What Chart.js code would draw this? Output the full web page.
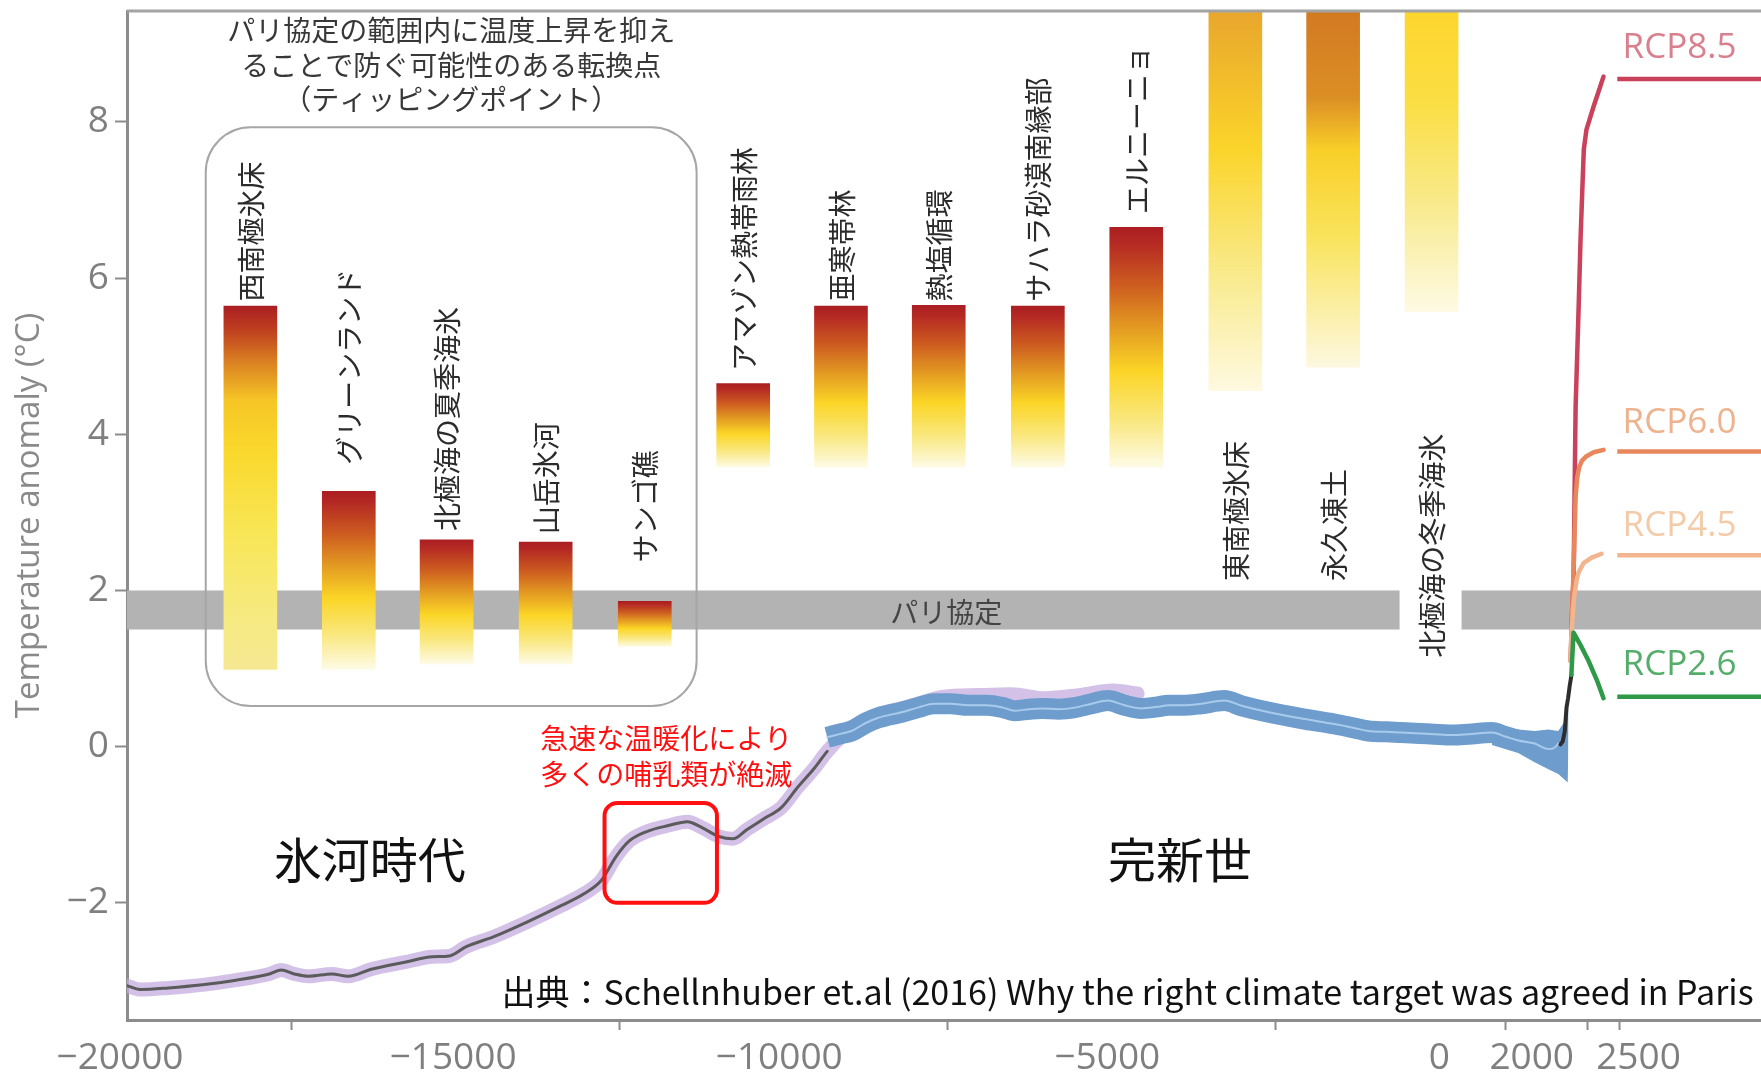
<!DOCTYPE html>
<html lang="ja">
<head>
<meta charset="utf-8">
<title>Temperature anomaly and tipping points</title>
<script src="https://cdn.jsdelivr.net/npm/chart.js@4/dist/chart.umd.min.js"></script>
<style>
  html, body { margin: 0; padding: 0; background: #fff; }
  #wrap { width: 1761px; height: 1072px; }
</style>
</head>
<body>
<div id="wrap"><canvas id="chart" width="1761" height="1072"></canvas></div>
<script>
// Temperature reconstruction, 20000 BC -> today, plus scenario runs and tipping elements

// Last glacial maximum through the deglaciation (purple record)
const glacialYears = [-20000, -19800, -19370, -18850, -18340, -17830, -17650, -17450, -17230, -16880,
  -16630, -16280, -15770, -15340, -15090, -14830, -14400, -13890, -13370, -13030,
  -12770, -12550, -12350, -12090, -11750, -11460, -11230, -10980, -10770, -10550,
  -10290, -10030, -9780, -9520, -9330, -9100, -8920, -8580, -8070, -7550,
  -7040, -6520, -6010, -5500, -4980, -4600];
const glacialTemps = [-3.06, -3.11, -3.09, -3.05, -2.99, -2.91, -2.86, -2.91, -2.94, -2.91,
  -2.94, -2.85, -2.76, -2.69, -2.68, -2.56, -2.43, -2.24, -2.03, -1.88,
  -1.71, -1.41, -1.21, -1.09, -1.01, -0.96, -1.04, -1.15, -1.18, -1.06,
  -0.92, -0.78, -0.52, -0.27, -0.06, 0.14, 0.26, 0.40, 0.52, 0.64,
  0.66, 0.67, 0.62, 0.66, 0.72, 0.68];

// Holocene record (blue)
const holoceneYears = [-9330, -9100, -8960, -8750, -8550, -8200, -7950, -7700, -7450, -7180,
  -6900, -6650, -6480, -6250, -6070, -5800, -5560, -5300, -5050, -4800,
  -4540, -4300, -4130, -3900, -3630, -3280, -3000, -2600, -2100, -1600,
  -1300, -1080, -800, -580, -300, -80, 200, 440, 800, 1000,
  1200, 1450, 1660, 1810, 1900, 1960];
const holoceneTemps = [0.12, 0.17, 0.20, 0.30, 0.37, 0.44, 0.50, 0.55, 0.55, 0.53,
  0.53, 0.50, 0.46, 0.48, 0.49, 0.48, 0.50, 0.55, 0.59, 0.53,
  0.49, 0.51, 0.53, 0.53, 0.55, 0.59, 0.52, 0.44, 0.36, 0.29,
  0.24, 0.20, 0.19, 0.18, 0.17, 0.16, 0.15, 0.16, 0.18, 0.13,
  0.08, 0.04, -0.03, 0.04, 0.33, 0.68];

// Widening uncertainty at the young end of the Holocene record
const fanYears = [800, 1200, 1450, 1660, 1810, 1905, 1955, 1966];
const fanHigh = [0.28, 0.22, 0.20, 0.22, 0.20, 0.32, 0.62, 0.80];
const fanLow = [0.02, -0.08, -0.20, -0.29, -0.35, -0.42, -0.46, 0.10];

// Instrumental record
const instrumentYears = [1845, 1880, 1910, 1936, 1960, 1985, 2012];
const instrumentTemps = [0.03, 0.07, 0.20, 0.50, 0.62, 0.78, 0.92];

// Scenario runs to 2500
const rcp85Years = [2000, 2015, 2045, 2060, 2075, 2120, 2150, 2180, 2200, 2240, 2350, 2500];
const rcp85Temps = [1.10, 1.60, 2.20, 3.30, 4.35, 5.60, 6.50, 7.20, 7.65, 7.90, 8.20, 8.58];
const rcp60Years = [2000, 2015, 2045, 2075, 2100, 2130, 2170, 2240, 2350, 2500];
const rcp60Temps = [1.10, 1.55, 2.30, 3.20, 3.45, 3.58, 3.66, 3.72, 3.77, 3.80];
const rcp45Years = [2000, 2015, 2050, 2090, 2120, 2195, 2320, 2470];
const rcp45Temps = [1.10, 1.50, 1.90, 2.13, 2.23, 2.35, 2.42, 2.47];
const rcp26Years = [2010, 2043, 2150, 2271, 2400, 2500];
const rcp26Temps = [0.92, 1.46, 1.30, 1.10, 0.85, 0.62];

// Long-term level of each scenario
const rcpNames = ['RCP8.5', 'RCP6.0', 'RCP4.5', 'RCP2.6'];
const rcpLevelYears = [2710, 4900];
const rcpLevels = [8.55, 3.78, 2.45, 0.64];

// Tipping elements: warming range (°C) at which each may tip
const tipNames = ['西南極氷床', 'グリーンランド', '北極海の夏季海氷', '山岳氷河', 'サンゴ礁',
  'アマゾン熱帯雨林', '亜寒帯林', '熱塩循環', 'サハラ砂漠南縁部', 'エルニーニョ',
  '東南極氷床', '永久凍土', '北極海の冬季海氷'];
const tipYears = [-18120, -16620, -15130, -13620, -12110, -10610, -9120, -7630, -6120, -4620, -3110, -1620, -120];
const tipLow = [0.99, 0.99, 1.06, 1.06, 1.28, 3.58, 3.58, 3.58, 3.58, 3.58, 4.56, 4.86, 5.57];
const tipHigh = [5.64, 3.27, 2.65, 2.62, 1.86, 4.65, 5.64, 5.65, 5.64, 6.65, 10, 10, 10];

// Paris agreement band
const parisBand = [1.5, 2.0];

const yearTicks = [-20000, -15000, -10000, -5000, 0, 2000, 2500];
const tempTicks = [-2, 0, 2, 4, 6, 8];

// ---- styling / layout ----
const JP = '"Noto Sans CJK JP", "Noto Sans", sans-serif';
const LATIN = '"Open Sans", "Noto Sans", sans-serif';
const AXIS_GREY = '#8c8c8c';
const rcpColors = ['#c9415a', '#e8875c', '#f2b58e', '#2e9a48'];
const rcpLabelColors = ['#d9808e', '#efb28f', '#f3cba8', '#55ad6c'];
const rcpLabelAt = [8.95, 4.15, 2.83, 1.04];

const shades = {
  deep: [[0, '#ab1e22'], [0.07, '#c0421f'], [0.16, '#dc8522'], [0.26, '#f6c626'], [0.4, '#fad82c'], [0.62, '#f8e655'], [0.85, '#f6ea80'], [1, '#f5e892']],
  warm: [[0, '#ab1e22'], [0.06, '#b42823'], [0.24, '#cd5c20'], [0.42, '#e39b22'], [0.6, '#fbd526'], [0.8, '#f9e77c'], [1, '#fefbe6']],
  amber: [[0, '#e39a2c'], [0.1, '#e8a52c'], [0.43, '#fbd42a'], [0.72, '#f9ea8a'], [1, '#fef9e0']],
  rust: [[0, '#cc6e20'], [0.12, '#d27a22'], [0.33, '#dc8f25'], [0.46, '#f9cf28'], [0.67, '#f9e35a'], [1, '#fdf8e0']],
  lemon: [[0, '#fcd124'], [0.1, '#fdd52a'], [0.4, '#fbde44'], [0.68, '#f8ea8a'], [1, '#fefae4']]
};
const tipShade = ['deep', 'warm', 'warm', 'warm', 'warm', 'warm', 'warm', 'warm', 'warm', 'warm', 'amber', 'rust', 'lemon'];
// where each rotated name starts (°C)
const tipLabelAt = [5.70, 3.61, 2.76, 2.72, 2.36, 4.81, 5.70, 5.70, 5.70, 6.82, 2.12, 2.12, 1.14];
const yearLabelShift = [-7, -2, -4, -4, 0, -39, 35];

const notes = {
  box: { x: [-18800, -11320], y: [0.52, 7.93], r: 45 },
  title: { x: -15060, y: [9.17, 8.73, 8.29], lines: ['パリ協定の範囲内に温度上昇を抑え', 'ることで防ぐ可能性のある転換点', '（ティッピングポイント）'] },
  extinction: { x: -11781, y: [0.10, -0.35], lines: ['急速な温暖化により', '多くの哺乳類が絶滅'] },
  redBox: { x: [-12723, -11010], y: [-2.0, -0.72], r: 13 },
  ice: { x: -16301, y: -1.45, text: '氷河時代' },
  holocene: { x: -3955, y: -1.45, text: '完新世' },
  paris: { x: -7517, y: 1.72, text: 'パリ協定' },
  source: { x: 4787, y: -3.14, text: '出典：Schellnhuber et.al (2016) Why the right climate target was agreed in Paris' },
  rcpX: 2790
};

const pts = (xs, ys) => xs.map((x, i) => ({ x, y: ys[i] }));
const fmt = v => (v < 0 ? '\u2212' + Math.abs(v) : String(v));
const CLEAR = 'rgba(0,0,0,0)';

function roundedRect(ctx, x0, y0, x1, y1, r) {
  ctx.beginPath();
  ctx.moveTo(x0 + r, y0);
  ctx.arcTo(x1, y0, x1, y1, r);
  ctx.arcTo(x1, y1, x0, y1, r);
  ctx.arcTo(x0, y1, x0, y0, r);
  ctx.arcTo(x0, y0, x1, y0, r);
  ctx.closePath();
}

function barFill(c) {
  const chart = c.chart;
  if (!chart.chartArea || c.dataIndex === undefined) return 'transparent';
  const ys = chart.scales.y;
  const i = c.dataIndex;
  const g = chart.ctx.createLinearGradient(0, ys.getPixelForValue(tipHigh[i]), 0, ys.getPixelForValue(tipLow[i]));
  shades[tipShade[i]].forEach(([o, col]) => g.addColorStop(o, col));
  return g;
}

// band, frame, labels and notes drawn against the chart's own scales
const overlay = {
  id: 'overlay',
  beforeDatasetsDraw(chart) {
    const { ctx, chartArea: area, scales: { y } } = chart;
    const top = y.getPixelForValue(parisBand[1]);
    const bottom = y.getPixelForValue(parisBand[0]);
    ctx.save();
    ctx.fillStyle = '#b3b3b3';
    ctx.fillRect(area.left, top, area.right - area.left, bottom - top);
    ctx.restore();
  },
  afterDatasetsDraw(chart) {
    const { ctx, chartArea: area, scales: { x, y } } = chart;
    ctx.save();

    // top frame line
    ctx.strokeStyle = '#a3a3a3';
    ctx.lineWidth = 3;
    ctx.beginPath();
    ctx.moveTo(area.left, area.top);
    ctx.lineTo(area.right, area.top);
    ctx.stroke();

    ctx.textAlign = 'center';
    ctx.textBaseline = 'middle';

    // band label
    ctx.font = '28px ' + JP;
    ctx.fillStyle = '#444';
    ctx.fillText(notes.paris.text, x.getPixelForValue(notes.paris.x), y.getPixelForValue(notes.paris.y));

    // tipping element names, reading bottom to top
    tipNames.forEach((name, i) => {
      ctx.save();
      ctx.translate(x.getPixelForValue(tipYears[i]), y.getPixelForValue(tipLabelAt[i]));
      ctx.rotate(-Math.PI / 2);
      ctx.font = '28px ' + JP;
      const w = ctx.measureText(name).width;
      if (tipLabelAt[i] < parisBand[1]) {
        ctx.fillStyle = '#fff';
        ctx.fillRect(-4, -32, w + 8, 62);
      }
      ctx.fillStyle = '#2b2b2b';
      ctx.textAlign = 'left';
      ctx.fillText(name, 0, 1);
      ctx.restore();
    });

    // group box for the elements inside the Paris range
    const b = notes.box;
    ctx.strokeStyle = '#a6a6a6';
    ctx.lineWidth = 2;
    roundedRect(ctx, x.getPixelForValue(b.x[0]), y.getPixelForValue(b.y[1]), x.getPixelForValue(b.x[1]), y.getPixelForValue(b.y[0]), b.r);
    ctx.stroke();

    ctx.font = '28px ' + JP;
    ctx.fillStyle = '#383838';
    notes.title.lines.forEach((line, k) => {
      ctx.fillText(line, x.getPixelForValue(notes.title.x), y.getPixelForValue(notes.title.y[k]));
    });

    // extinction note
    const rb = notes.redBox;
    ctx.strokeStyle = '#ff1010';
    ctx.lineWidth = 4;
    roundedRect(ctx, x.getPixelForValue(rb.x[0]), y.getPixelForValue(rb.y[1]), x.getPixelForValue(rb.x[1]), y.getPixelForValue(rb.y[0]), rb.r);
    ctx.stroke();
    ctx.fillStyle = '#ff1010';
    notes.extinction.lines.forEach((line, k) => {
      ctx.fillText(line, x.getPixelForValue(notes.extinction.x), y.getPixelForValue(notes.extinction.y[k]));
    });

    // era names
    ctx.font = '48px ' + JP;
    ctx.fillStyle = '#111';
    [notes.ice, notes.holocene].forEach(n => ctx.fillText(n.text, x.getPixelForValue(n.x), y.getPixelForValue(n.y)));

    // scenario names
    ctx.font = '35px ' + LATIN;
    ctx.textAlign = 'left';
    rcpNames.forEach((name, i) => {
      ctx.fillStyle = rcpLabelColors[i];
      ctx.fillText(name, x.getPixelForValue(notes.rcpX), y.getPixelForValue(rcpLabelAt[i]));
    });

    // source line
    ctx.font = '34px ' + JP;
    ctx.fillStyle = '#111';
    ctx.textAlign = 'right';
    ctx.fillText(notes.source.text, x.getPixelForValue(notes.source.x), y.getPixelForValue(notes.source.y));

    ctx.restore();
  },
  afterDraw(chart) {
    const { ctx, chartArea: area, scales: { x } } = chart;
    ctx.save();
    ctx.font = '37px ' + LATIN;
    ctx.fillStyle = '#7f7f7f';
    ctx.textAlign = 'center';
    ctx.textBaseline = 'alphabetic';
    yearTicks.forEach((v, i) => {
      ctx.fillText(fmt(v), x.getPixelForValue(v) + yearLabelShift[i], area.bottom + 49);
    });
    ctx.restore();
  }
};

const line = (data, color, width, order, extra) => Object.assign({
  type: 'line', data, borderColor: color, borderWidth: width, order,
  pointRadius: 0, fill: false, borderCapStyle: 'round', borderJoinStyle: 'round'
}, extra || {});

const datasets = [
  {
    type: 'bar',
    data: tipYears.map((x, i) => ({ x, y: [tipLow[i], tipHigh[i]] })),
    backgroundColor: barFill,
    borderWidth: 0,
    barThickness: 53,
    clip: 0,
    order: 30
  },
  line(pts(glacialYears, glacialTemps), 'rgba(198,172,224,0.75)', 14, 20, { cubicInterpolationMode: 'monotone' }),
  line(pts(glacialYears, glacialTemps), '#5b5b5b', 3, 19, {
    cubicInterpolationMode: 'monotone',
    segment: { borderColor: s => (s.p0.parsed.x >= -9330 ? CLEAR : '#5b5b5b') }
  }),
  line(pts(fanYears, fanHigh), CLEAR, 0, 18, { fill: '+1', backgroundColor: '#6e9dcd' }),
  line(pts(fanYears, fanLow), CLEAR, 0, 18),
  // thick band stops where the fan takes over, so the steep tail stays narrow
  line(pts(holoceneYears, holoceneTemps), '#6e9dcd', 21, 17, {
    cubicInterpolationMode: 'monotone',
    borderCapStyle: 'butt',
    segment: { borderColor: s => (s.p0.parsed.x >= 1810 ? CLEAR : '#6e9dcd') }
  }),
  line(pts(holoceneYears, holoceneTemps), '#a9cbeb', 2, 16, {
    cubicInterpolationMode: 'monotone',
    segment: { borderColor: s => (s.p0.parsed.x >= 1810 ? CLEAR : '#a9cbeb') }
  }),
  line(pts(instrumentYears, instrumentTemps), '#2d2d2d', 4, 15),
  line(pts(rcp85Years, rcp85Temps), rcpColors[0], 4.5, 14),
  line(pts(rcpLevelYears, [rcpLevels[0], rcpLevels[0]]), rcpColors[0], 4.5, 14, { borderCapStyle: 'butt' }),
  line(pts(rcp60Years, rcp60Temps), rcpColors[1], 4.5, 13),
  line(pts(rcpLevelYears, [rcpLevels[1], rcpLevels[1]]), rcpColors[1], 4.5, 13, { borderCapStyle: 'butt' }),
  line(pts(rcp45Years, rcp45Temps), rcpColors[2], 4.5, 12),
  line(pts(rcpLevelYears, [rcpLevels[2], rcpLevels[2]]), rcpColors[2], 4.5, 12, { borderCapStyle: 'butt' }),
  line(pts(rcp26Years, rcp26Temps), rcpColors[3], 4.5, 11),
  line(pts(rcpLevelYears, [rcpLevels[3], rcpLevels[3]]), rcpColors[3], 4.5, 11, { borderCapStyle: 'butt' })
];

new Chart(document.getElementById('chart'), {
  type: 'line',
  data: { datasets },
  options: {
    responsive: false,
    animation: false,
    layout: { padding: { top: 11, right: 0, bottom: 0, left: 0 } },
    plugins: { legend: { display: false }, tooltip: { enabled: false } },
    scales: {
      x: {
        type: 'linear',
        min: -20000,
        max: 4900,
        offset: false,
        afterBuildTicks: s => { s.ticks = yearTicks.map(v => ({ value: v })); },
        afterFit: s => { s.height = 52; s.paddingLeft = 0; s.paddingRight = 0; },
        grid: { drawOnChartArea: false, drawTicks: true, tickLength: 10, tickColor: AXIS_GREY, tickWidth: 2 },
        border: { display: true, color: AXIS_GREY, width: 3 },
        ticks: { display: false }
      },
      y: {
        type: 'linear',
        min: -3.5,
        max: 9.42,
        afterBuildTicks: s => { s.ticks = tempTicks.map(v => ({ value: v })); },
        // tick labels never reach the plot edges, so no extra label padding
        afterFit: s => { s.width = 127; s.paddingTop = 0; s.paddingBottom = 0; },
        grid: { drawOnChartArea: false, drawTicks: true, tickLength: 12, tickColor: AXIS_GREY, tickWidth: 2 },
        border: { display: true, color: AXIS_GREY, width: 3 },
        ticks: { color: '#7f7f7f', font: { family: LATIN, size: 37 }, padding: 6, callback: v => fmt(v) },
        title: {
          display: true,
          text: 'Temperature anomaly (°C)',
          color: '#8a8a8a',
          font: { family: LATIN, size: 33 },
          padding: { top: 10, bottom: 0 }
        }
      }
    }
  },
  plugins: [overlay]
});
</script>
</body>
</html>
